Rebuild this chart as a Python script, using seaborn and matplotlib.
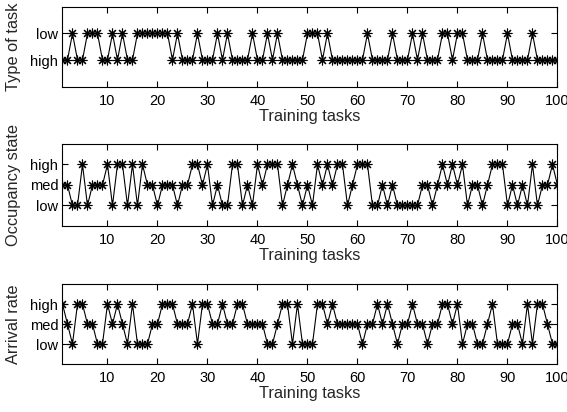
import numpy as np
import pandas as pd
import matplotlib
matplotlib.use("Agg")
import matplotlib.pyplot as plt
import seaborn as sns

# Training task index
tasks = list(range(1, 101))

# Type of task per training task (H = high, L = low)
task_type = list(
    "HHLHHLLLHH" "LHLHHLLLLL" "LLHLHHHLHH" "HLHLHHHHLH" "HLHLHHHHHL"
    "LLHLHHHHHH" "HLHHHHLHHH" "LHLHHHLLHL" "LHHHLHHHHL" "HHHHLHHHHH"
)

# Occupancy state per training task (L = low, M = med, H = high)
occupancy = list(
    "MMLLHLMMMH" "LHHLHLHMML" "MMMLMMHHMH" "LMLLHHLMLH" "MHHHLMHMLM"
    "LHMHMHHLMH" "HHLLMLMLLL" "LLMMLMHMHM" "HLMMLMHHHL" "MLMLHLMMHM"
)

# Arrival rate per training task (L = low, M = med, H = high)
arrival = list(
    "HMLHHMMLLH" "MHMLHLLLMM" "HHHMMMHLHH" "MMHMMHHMMM" "MLLMHHLHLL"
    "LHHMHMMMMM" "LMMHMHMLMM" "HMMLMMHHMH" "LMMLLMHLLL" "MMLHLHHMLL"
)

type_levels = {"H": 1, "L": 2}
type_labels = ["high", "low"]
state_levels = {"L": 1, "M": 2, "H": 3}
state_labels = ["low", "med", "high"]

x_ticks = list(range(10, 101, 10))

sns.set_theme(style="white")
plt.rcParams["font.family"] = ["Liberation Sans", "DejaVu Sans"]

fig = plt.figure(figsize=(5.67, 4.12), dpi=100)
left, width = 0.1102, 0.873
ax_specs = [
    (0.7896, 0.194),
    (0.4515, 0.199),
    (0.1165, 0.194),
]
panels = [
    (task_type, type_levels, type_labels, "Type of task", (0, 3)),
    (occupancy, state_levels, state_labels, "Occupancy state", (0, 4)),
    (arrival, state_levels, state_labels, "Arrival rate", (0, 4)),
]

for (bottom, height), (codes, levels, labels, ylabel, ylim) in zip(ax_specs, panels):
    ax = fig.add_axes([left, bottom, width, height])
    df = pd.DataFrame({"task": tasks, "level": [levels[c] for c in codes]})
    sns.lineplot(
        data=df, x="task", y="level", ax=ax,
        color="black", linewidth=0.8,
        marker=(8, 2, 0), markersize=7,
        markeredgecolor="black", markeredgewidth=0.8,
    )
    ax.set_xlim(1, 100)
    ax.set_ylim(*ylim)
    ax.set_xticks(x_ticks)
    ax.set_yticks(list(range(1, len(labels) + 1)))
    ax.set_yticklabels(labels)
    ax.tick_params(axis="both", direction="in", length=4, width=0.8,
                   top=True, right=True, bottom=True, left=True,
                   labelsize=10.5, colors="black")
    ax.tick_params(axis="x", pad=5)
    ax.tick_params(axis="y", pad=3)
    for s in ax.spines.values():
        s.set_visible(True)
        s.set_color("black")
        s.set_linewidth(0.8)
    ax.set_xlabel("Training tasks", fontsize=11.8, labelpad=1)
    ax.set_ylabel(ylabel, fontsize=11.8)
    ax.yaxis.set_label_coords(-0.084, 0.5)
    ax.grid(False)

fig.savefig("out.png", dpi=100, facecolor="white")
